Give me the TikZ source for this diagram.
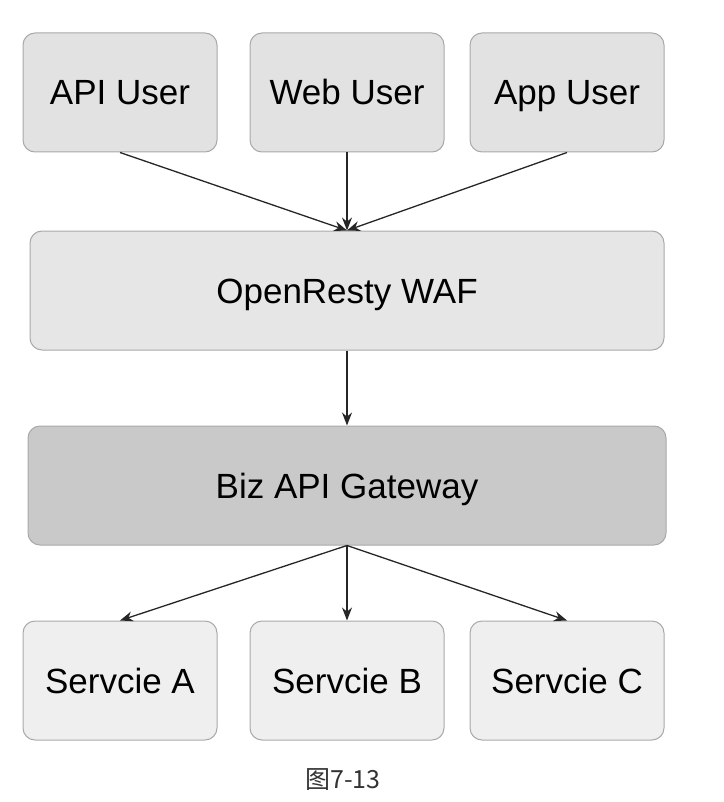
\documentclass[tikz,border=0pt]{standalone}
\usepackage{fontspec}
\setmainfont{Liberation Sans}
\newfontfamily\cjk{Noto Sans CJK SC}
\usepackage{xcolor}
\usepackage{tikz}
\usetikzlibrary{arrows.meta, positioning}

\definecolor{boxline}{HTML}{A9A9A9}
\definecolor{userfill}{HTML}{E2E2E2}
\definecolor{waffill}{HTML}{E6E6E6}
\definecolor{gwfill}{HTML}{C9C9C9}
\definecolor{svcfill}{HTML}{EFEFEF}

\begin{document}
\begin{tikzpicture}[
    x=1pt, y=1pt,
    box/.style={draw=boxline, rectangle, rounded corners=12pt, line width=1pt, minimum width=194pt, minimum height=119pt, align=center, text height=25pt, text depth=0pt, font=\fontsize{35}{40}\selectfont},
    wide/.style={box, minimum width=634pt},
    arrow/.style={-{Stealth[length=13pt, width=10pt]}, line width=1.3pt, draw=black!85}
]
\useasboundingbox (0,0) rectangle (723,-802);

\node[box, fill=userfill] (apiuser) at (120,-92.5) {API User};
\node[box, fill=userfill, right=32pt of apiuser] (webuser) {Web User};
\node[box, fill=userfill, right=25pt of webuser] (appuser) {App User};

\node[wide, fill=waffill, below=78pt of webuser] (waf) {OpenResty WAF};
\node[wide, fill=gwfill, below=75pt of waf, minimum width=638pt] (gw) {Biz API Gateway};

\node[box, fill=svcfill, below=75pt of gw] (servb) {Servcie B};
\node[box, fill=svcfill, left=32pt of servb] (serva) {Servcie A};
\node[box, fill=svcfill, right=25pt of servb] (servc) {Servcie C};

\draw[arrow] (apiuser.south) -- (waf.north);
\draw[arrow] (webuser.south) -- (waf.north);
\draw[arrow] (appuser.south) -- (waf.north);
\draw[arrow] (waf) -- (gw);
\draw[arrow] (gw.south) -- (serva.north);
\draw[arrow] (gw.south) -- (servb.north);
\draw[arrow] (gw.south) -- (servc.north);

% caption
\node[font=\cjk\fontsize{25}{30}\selectfont, text=black!80] (caption) at (343,-780) {图7-13};

\end{tikzpicture}
\end{document}
